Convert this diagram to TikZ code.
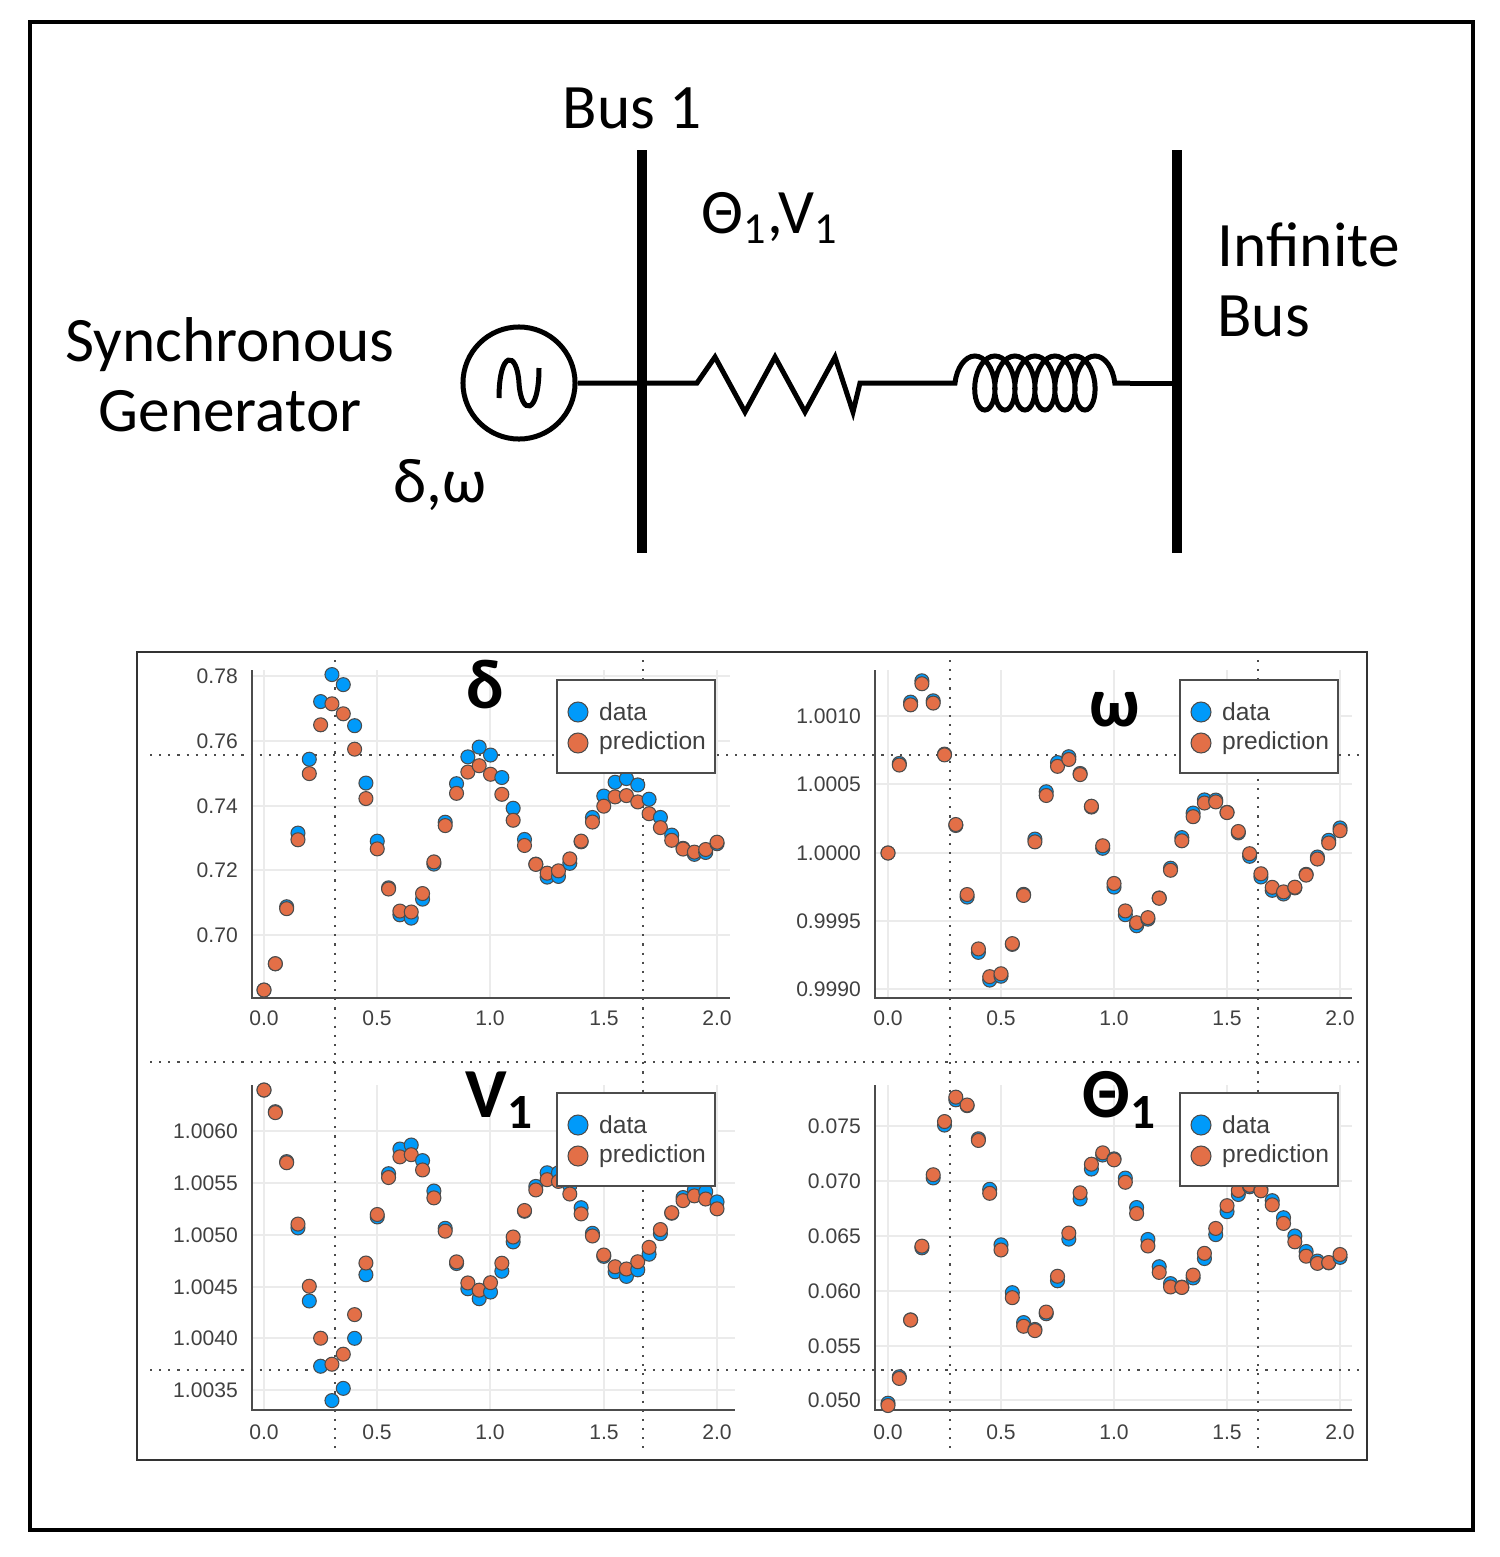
\documentclass[tikz,border=0pt]{standalone}
\usepackage{fontspec}
\setmainfont{Carlito}
\newfontfamily\plotfont{Liberation Sans}
\usetikzlibrary{positioning, decorations.pathmorphing}
\definecolor{juliablue}{RGB}{0,154,250}
\definecolor{juliaorange}{RGB}{227,111,71}

\begin{document}
\begin{tikzpicture}[x=0.01cm, y=-0.01cm,
            busbar/.style={line width=10pt*0.2845},
            wire/.style={line width=5pt*0.2845},
            lbl/.style={font=\fontsize{18}{20}\selectfont},
            ttl/.style={font=\fontsize{20}{20}\selectfont\bfseries},
            tick/.style={font=\plotfont\fontsize{6}{6}\selectfont, text=black!75, inner sep=1pt},
            legtext/.style={font=\plotfont\fontsize{7}{7}\selectfont, text=black!75, inner sep=1pt, anchor=west},
            axisline/.style={black!70, line width=0.5pt},
            gridline/.style={black!8, line width=0.4pt},
            dotline/.style={black!70, dotted, line width=0.6pt},
            dotdata/.style={fill=juliablue, draw=black!70, line width=0.3pt},
            dotpred/.style={fill=juliaorange, draw=black!70, line width=0.3pt}
        ]

            \useasboundingbox (0,0) rectangle (1500,1557);
            \draw[line width=1.2pt] (30,22) rectangle (1473,1530);

            % circuit
            \coordinate (B1top) at (642,150);
            \coordinate (B1bot) at (642,553);
            \coordinate (IBtop) at (1177,150);
            \coordinate (IBbot) at (1177,553);
            \draw[busbar] (B1top) -- (B1bot);
            \draw[busbar] (IBtop) -- (IBbot);

            \node[circle, draw, line width=5pt*0.2845, minimum size=1.12cm] (gen) at (519,383) {};
            \draw[wire] (499,398) .. controls (499,350) and (517,350) .. (519,383)
                                  .. controls (521,416) and (539,416) .. (539,368);

            \coordinate (r0) at (697,383);
            \coordinate (r1) at (860,383);
            \coordinate (l0) at (950,383);
            \coordinate (l1) at (1130,383);
            \draw[wire] (gen.east) -- (r0) -- (715,357) -- (745,412) -- (775,357) -- (805,412)
                        -- (835,357) -- (853,412) -- (r1) -- (l0);
            \draw[wire, decorate, decoration={coil, aspect=0.55, segment length=0.2cm, amplitude=0.27cm,
                        pre length=0.05cm, post length=0.05cm}] (l0) -- (l1);
            \draw[wire] (l1) -- (IBtop |- l1);

            \node[lbl] (bus1) at (632,108) {Bus 1};
            \node[lbl] (thv) at (770,218) {Θ\textsubscript{1},V\textsubscript{1}};
            \node[lbl, align=left, anchor=west] (inf) at (1205,280) {Infinite\\Bus};
            \node[lbl, align=center] (sg) at (230,375) {Synchronous\\Generator};
            \node[lbl] (dw) at (440,485) {δ,ω};

            % plots frame
            \draw[black!80, line width=0.8pt] (137,652) rectangle (1367,1460);

            % grids
            \foreach \gx in {264,377,490,604,717} {
                \draw[gridline] (\gx,670) -- (\gx,998);
                \draw[gridline] (\gx,1085) -- (\gx,1410);
            }
            \foreach \gx in {888,1001,1114,1227,1340} {
                \draw[gridline] (\gx,670) -- (\gx,998);
                \draw[gridline] (\gx,1085) -- (\gx,1410);
            }
            \foreach \gy in {676,741,806,870,935} \draw[gridline] (252,\gy) -- (730,\gy);
            \foreach \gy in {716,784,853,921,989} \draw[gridline] (875,\gy) -- (1352,\gy);
            \foreach \gy in {1131,1183,1235,1287,1338,1390} \draw[gridline] (252,\gy) -- (735,\gy);
            \foreach \gy in {1126,1181,1236,1291,1346,1400} \draw[gridline] (875,\gy) -- (1352,\gy);

            % dotted artefact lines
            \draw[dotline] (150,755) -- (1360,755);
            \draw[dotline] (150,1062) -- (1360,1062);
            \draw[dotline] (150,1370) -- (1360,1370);
            \draw[dotline] (335,660) -- (335,1450);
            \draw[dotline] (643,660) -- (643,1450);
            \draw[dotline] (950,660) -- (950,1450);
            \draw[dotline] (1258,660) -- (1258,1450);

            % axes
            \draw[axisline] (252,670) -- (252,998) -- (730,998);
            \draw[axisline] (875,670) -- (875,998) -- (1352,998);
            \draw[axisline] (252,1085) -- (252,1410) -- (735,1410);
            \draw[axisline] (875,1085) -- (875,1410) -- (1352,1410);

            % tick labels
            \foreach \v/\gy in {0.78/676,0.76/741,0.74/806,0.72/870,0.70/935}
                \node[tick, anchor=east] at (242,\gy) {\v};
            \foreach \v/\gy in {1.0010/716,1.0005/784,1.0000/853,0.9995/921,0.9990/989}
                \node[tick, anchor=east] at (865,\gy) {\v};
            \foreach \v/\gy in {1.0060/1131,1.0055/1183,1.0050/1235,1.0045/1287,1.0040/1338,1.0035/1390}
                \node[tick, anchor=east] at (242,\gy) {\v};
            \foreach \v/\gy in {0.075/1126,0.070/1181,0.065/1236,0.060/1291,0.055/1346,0.050/1400}
                \node[tick, anchor=east] at (865,\gy) {\v};
            \foreach \v/\gx in {0.0/264,0.5/377,1.0/490,1.5/604,2.0/717} {
                \node[tick] at (\gx,1018) {\v};
                \node[tick] at (\gx,1432) {\v};
            }
            \foreach \v/\gx in {0.0/888,0.5/1001,1.0/1114,1.5/1227,2.0/1340} {
                \node[tick] at (\gx,1018) {\v};
                \node[tick] at (\gx,1432) {\v};
            }

            % data points
            \foreach \i in {0,...,40} {
                \pgfmathsetmacro\t{\i*0.05}
                \pgfmathsetmacro\bump{exp(-((\t-0.31)/0.12)^2)}
                % delta
                \pgfmathsetmacro\ya{935-(0.735-0.052*exp(-0.85*\t)*cos(562*\t)+0.006*\bump-0.70)*3237.5}
                \pgfmathsetmacro\yb{935-(0.733-0.050*exp(-1.0*\t)*cos(565*\t)+0.002*\bump-0.70)*3237.5}
                \filldraw[dotdata] (264+\t*226.5,\ya) circle (7);
                \filldraw[dotpred] (264+\t*226.5,\yb) circle (7);
                % omega
                \pgfmathsetmacro\yc{853-(14.5*exp(-0.9*\t)*sin(565*\t))*13.65}
                \pgfmathsetmacro\yd{853-(14.3*exp(-0.92*\t)*sin(563*\t))*13.65}
                \filldraw[dotdata] (888+\t*226,\yc) circle (7);
                \filldraw[dotpred] (888+\t*226,\yd) circle (7);
                % V1
                \pgfmathsetmacro\ye{1235-(0.6+12*exp(-0.6*\t)*cos(562*\t)+1.4*exp(-(\t/0.1)^2)-6.8*\bump)*10.36}
                \pgfmathsetmacro\yf{1235-(0.6+11*exp(-0.65*\t)*cos(565*\t)+2.4*exp(-(\t/0.1)^2)-4.2*\bump)*10.36}
                \filldraw[dotdata] (264+\t*226.5,\ye) circle (7);
                \filldraw[dotpred] (264+\t*226.5,\yf) circle (7);
                % theta1
                \pgfmathsetmacro\yg{1400-(0.0655-0.0158*exp(-0.85*\t)*cos(555*\t)-0.05)*10960}
                \pgfmathsetmacro\yh{1400-(0.0655-0.0160*exp(-0.85*\t)*cos(560*\t)-0.05)*10960}
                \filldraw[dotdata] (888+\t*226,\yg) circle (7);
                \filldraw[dotpred] (888+\t*226,\yh) circle (7);
            }

            % legends
            \foreach \lx/\ly in {557/680,1180/680,557/1093,1180/1093} {
                \draw[black!70, fill=white, line width=0.6pt] (\lx,\ly) rectangle (\lx+158,\ly+93);
                \filldraw[dotdata] (\lx+21,\ly+32) circle (10);
                \filldraw[dotpred] (\lx+21,\ly+63) circle (10);
                \node[legtext] at (\lx+38,\ly+32) {data};
                \node[legtext] at (\lx+38,\ly+63) {prediction};
            }

            % titles
            \node[ttl] (tdelta) at (485,685) {δ};
            \node[ttl] (tomega) at (1115,710) {ω};
            \node[ttl] (tv) at (500,1100) {V\textsubscript{1}};
            \node[ttl] (ttheta) at (1120,1100) {Θ\textsubscript{1}};

        \end{tikzpicture}
\end{document}
